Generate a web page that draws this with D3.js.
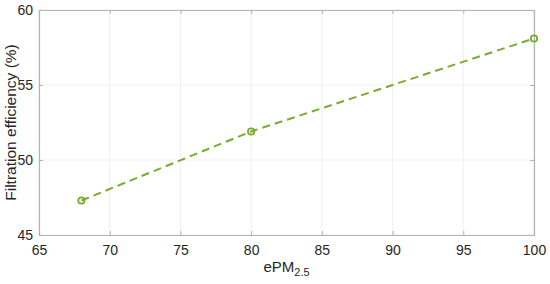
<!DOCTYPE html>
<html><head><meta charset="utf-8">
<script src="https://cdn.jsdelivr.net/npm/d3@7"></script>
<style>body{margin:0;background:#fff}svg{display:block}</style>
</head><body>
<svg id="c" width="550" height="284"></svg>
<script>
const xValues = [68, 80, 100];
const efficiency = [47.3, 51.9, 58.1];
const xTicks = [65, 70, 75, 80, 85, 90, 95, 100];
const yTicks = [45, 50, 55, 60];

const svg = d3.select("#c");
const L = 39, R = 534, T = 10, B = 235;
const x = d3.scaleLinear().domain([65, 100]).range([L, R]);
const y = d3.scaleLinear().domain([45, 60]).range([B, T]);
const font = "Liberation Sans, Arial, sans-serif";
const axisCol = "#b3b3b3";
const textCol = "#262626";

// grid
svg.append("g").selectAll("line").data(xTicks).join("line")
  .attr("x1", d => x(d)).attr("x2", d => x(d)).attr("y1", T).attr("y2", B)
  .attr("stroke", "#f0f0f0").attr("stroke-width", 1);
svg.append("g").selectAll("line").data(yTicks).join("line")
  .attr("y1", d => y(d)).attr("y2", d => y(d)).attr("x1", L).attr("x2", R)
  .attr("stroke", "#f0f0f0").attr("stroke-width", 1);

// axes
const xAxis = svg.append("g").attr("transform", `translate(0,${B})`)
  .call(d3.axisBottom(x).tickValues(xTicks).tickSize(-4).tickPadding(10).tickFormat(d3.format("d")));
const xAxisTop = svg.append("g").attr("transform", `translate(0,${T})`)
  .call(d3.axisTop(x).tickValues(xTicks).tickSize(-4).tickFormat(""));
const yAxis = svg.append("g").attr("transform", `translate(${L},0)`)
  .call(d3.axisLeft(y).tickValues(yTicks).tickSize(-4).tickPadding(6).tickFormat(d3.format("d")));
const yAxisR = svg.append("g").attr("transform", `translate(${R},0)`)
  .call(d3.axisRight(y).tickValues(yTicks).tickSize(-4).tickFormat(""));
[xAxis, xAxisTop, yAxis, yAxisR].forEach(g => {
  g.select(".domain").attr("stroke", axisCol).attr("stroke-width", 1.2);
  g.selectAll(".tick line").attr("stroke", axisCol);
  g.selectAll("text").attr("font-family", font).attr("font-size", 14).attr("fill", textCol);
});

// line
const pts = xValues.map((v, i) => [v, efficiency[i]]);
svg.append("path").datum(pts)
  .attr("d", d3.line().x(d => x(d[0])).y(d => y(d[1])))
  .attr("fill", "none").attr("stroke", "#77AC30").attr("stroke-width", 2)
  .attr("stroke-dasharray", "8,5");
svg.append("g").selectAll("circle").data(pts).join("circle")
  .attr("cx", d => x(d[0])).attr("cy", d => y(d[1])).attr("r", 3.2)
  .attr("fill", "none").attr("stroke", "#77AC30").attr("stroke-width", 1.8);

// labels
const xl = svg.append("text").attr("x", (L + R) / 2).attr("y", 272)
  .attr("text-anchor", "middle").attr("font-family", font).attr("font-size", 15).attr("fill", textCol);
xl.append("tspan").text("ePM");
xl.append("tspan").attr("font-size", 11).attr("dy", 4).text("2.5");

svg.append("text").attr("transform", `translate(16,${(T + B) / 2}) rotate(-90)`)
  .attr("text-anchor", "middle").attr("font-family", font).attr("font-size", 15.5).attr("fill", textCol)
  .text("Filtration efficiency (%)");
</script>
</body></html>
